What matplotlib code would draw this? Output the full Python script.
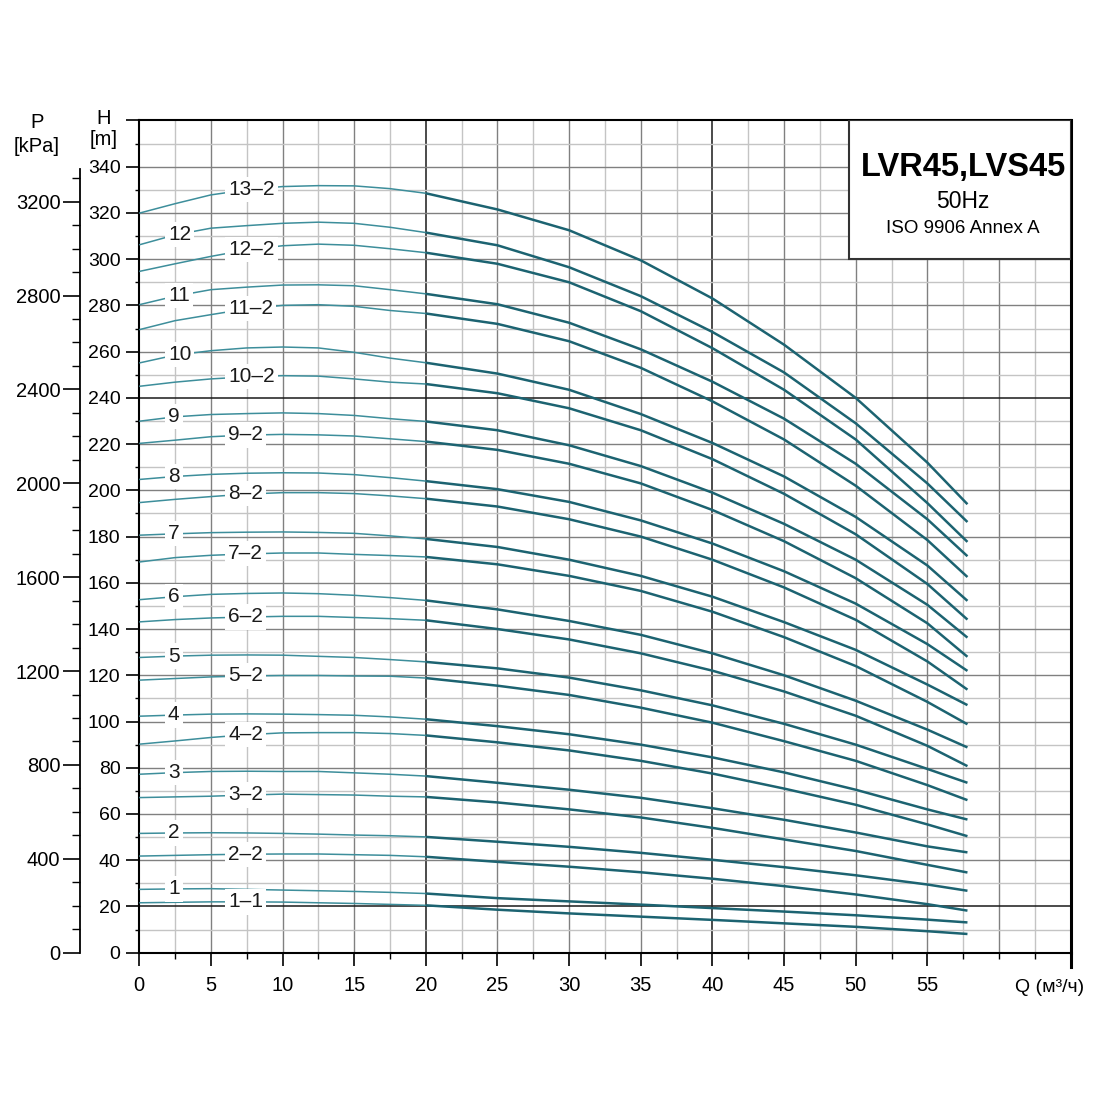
import numpy as np
import matplotlib
matplotlib.use("Agg")
import matplotlib.pyplot as plt
from matplotlib.patches import Rectangle

plt.rcParams['font.family'] = ['Liberation Sans', 'DejaVu Sans']

q = [0, 2.5, 5, 7.5, 10, 12.5, 15, 17.5, 20, 25, 30, 35, 40, 45, 50, 55, 57.8]

# Head (m) for every impeller variant
h_13_2 = [319.9, 324.0, 327.8, 330.0, 331.4, 331.8, 331.7, 330.5, 328.5, 321.5, 312.5, 299.5, 283.0, 263.0, 240.0, 212.0, 194.0]
h_12 = [306.2, 310.5, 313.4, 314.5, 315.5, 316.0, 315.5, 313.8, 311.5, 306.0, 296.5, 284.0, 268.5, 251.0, 229.0, 203.0, 186.3]
h_12_2 = [294.7, 298.0, 301.2, 304.0, 305.8, 306.5, 306.0, 304.5, 302.8, 298.0, 290.0, 277.5, 261.5, 243.5, 222.0, 194.5, 177.7]
h_11 = [280.3, 284.0, 286.8, 287.9, 288.8, 288.9, 288.5, 286.8, 285.0, 280.5, 272.5, 261.0, 247.0, 231.0, 211.5, 187.5, 171.5]
h_11_2 = [269.5, 273.4, 276.0, 278.5, 280.0, 280.3, 279.6, 277.8, 276.5, 272.0, 264.5, 253.0, 238.5, 222.0, 202.0, 178.5, 162.5]
h_10 = [255.1, 258.5, 260.4, 261.6, 262.0, 261.6, 259.7, 257.2, 255.2, 250.5, 243.5, 233.0, 220.5, 206.0, 188.5, 167.5, 152.2]
h_10_2 = [245.0, 246.8, 248.2, 249.1, 249.6, 249.4, 248.2, 246.8, 246.0, 242.0, 235.5, 226.0, 213.5, 198.5, 181.0, 159.5, 144.1]
h_9 = [229.9, 231.8, 232.8, 233.2, 233.5, 233.2, 232.4, 231.0, 229.8, 226.0, 219.5, 210.5, 199.0, 185.5, 170.0, 150.5, 136.3]
h_9_2 = [220.3, 221.7, 223.2, 223.9, 224.2, 224.0, 223.5, 222.3, 221.1, 217.5, 211.5, 203.0, 191.5, 178.0, 162.0, 142.5, 128.0]
h_8 = [204.7, 206.0, 206.9, 207.4, 207.6, 207.5, 206.8, 205.5, 204.0, 200.5, 195.0, 187.0, 177.0, 165.0, 151.0, 133.5, 121.9]
h_8_2 = [194.7, 196.1, 197.3, 198.4, 199.0, 199.0, 198.6, 197.6, 196.4, 193.0, 187.5, 180.0, 170.0, 158.0, 144.0, 126.0, 113.8]
h_7 = [180.6, 181.2, 181.7, 181.9, 182.0, 181.8, 181.4, 180.3, 179.0, 175.5, 170.0, 163.0, 154.0, 143.0, 131.0, 116.0, 107.1]
h_7_2 = [169.0, 170.9, 171.9, 172.5, 172.9, 172.9, 172.3, 171.8, 171.2, 168.0, 163.0, 156.5, 147.5, 136.5, 124.0, 108.5, 98.8]
h_6 = [152.7, 154.0, 155.0, 155.4, 155.6, 155.3, 154.6, 153.6, 152.4, 148.5, 143.5, 137.5, 129.5, 120.0, 109.0, 96.5, 88.8]
h_6_2 = [143.1, 144.1, 144.8, 145.2, 145.5, 145.5, 145.0, 144.5, 143.8, 140.0, 135.5, 129.5, 122.0, 113.0, 102.5, 89.5, 80.7]
h_5 = [127.7, 128.3, 128.7, 128.8, 128.7, 128.2, 127.7, 126.8, 125.8, 123.0, 119.0, 113.5, 107.0, 99.0, 90.0, 79.5, 73.5]
h_5_2 = [117.9, 118.6, 119.3, 119.7, 119.9, 119.9, 119.7, 119.6, 118.8, 115.5, 111.5, 106.0, 99.5, 91.5, 83.0, 72.5, 66.0]
h_4 = [102.3, 102.8, 103.2, 103.3, 103.2, 103.0, 102.7, 102.0, 101.0, 98.0, 94.5, 90.0, 84.5, 78.0, 70.5, 62.0, 57.6]
h_4_2 = [90.2, 91.6, 93.1, 94.3, 95.1, 95.2, 95.2, 94.8, 94.0, 91.0, 87.5, 83.0, 77.5, 71.0, 64.0, 55.5, 50.4]
h_3 = [77.2, 77.9, 78.4, 78.5, 78.4, 78.4, 77.8, 77.2, 76.4, 73.5, 70.5, 67.0, 62.5, 57.5, 52.0, 46.0, 43.4]
h_3_2 = [67.1, 67.4, 67.7, 68.2, 68.6, 68.4, 68.2, 67.7, 67.4, 65.0, 62.0, 58.5, 54.0, 49.0, 44.0, 38.0, 34.7]
h_2 = [51.6, 51.8, 51.9, 51.8, 51.6, 51.3, 50.9, 50.6, 50.1, 48.0, 45.8, 43.2, 40.2, 37.0, 33.5, 29.5, 26.8]
h_2_2 = [41.8, 42.1, 42.4, 42.6, 42.7, 42.7, 42.4, 42.1, 41.5, 39.3, 37.2, 34.8, 32.0, 28.8, 25.2, 21.0, 18.2]
h_1 = [27.4, 27.6, 27.7, 27.4, 27.1, 26.8, 26.5, 26.1, 25.6, 23.6, 22.2, 20.8, 19.3, 17.8, 16.2, 14.3, 13.1]
h_1_1 = [21.6, 21.8, 22.0, 22.0, 21.9, 21.6, 21.3, 20.9, 20.5, 18.6, 17.0, 15.6, 14.2, 12.7, 11.2, 9.3, 8.1]

names = ['13–2', '12', '12–2', '11', '11–2', '10', '10–2', '9', '9–2', '8', '8–2',
         '7', '7–2', '6', '6–2', '5', '5–2', '4', '4–2', '3', '3–2', '2', '2–2', '1', '1–1']
heads = [h_13_2, h_12, h_12_2, h_11, h_11_2, h_10, h_10_2, h_9, h_9_2, h_8, h_8_2,
         h_7, h_7_2, h_6, h_6_2, h_5, h_5_2, h_4, h_4_2, h_3, h_3_2, h_2, h_2_2, h_1, h_1_1]

x_ticks = [0, 5, 10, 15, 20, 25, 30, 35, 40, 45, 50, 55]
h_ticks = [0, 20, 40, 60, 80, 100, 120, 140, 160, 180, 200, 220, 240, 260, 280, 300, 320, 340]
p_ticks = [0, 400, 800, 1200, 1600, 2000, 2400, 2800, 3200]
KPA_PER_M = 9.85

fig = plt.figure(figsize=(11, 11), dpi=100)
ax = fig.add_axes([0.1266, 0.1339, 0.8467, 0.7566])
ax.set_xlim(0, 65)
ax.set_ylim(0, 360)

# grid
for x in np.arange(2.5, 65, 2.5):
    if x in (20, 40):
        c, lw = '#1a1a1a', 1.1
    elif x % 5 == 0:
        c, lw = '#808080', 1.0
    else:
        c, lw = '#c4c4c4', 1.0
    ax.axvline(x, color=c, lw=lw, zorder=1)
for y in np.arange(10, 360, 10):
    if y in (20, 240):
        c, lw = '#1a1a1a', 1.1
    elif y % 20 == 0:
        c, lw = '#808080', 1.0
    else:
        c, lw = '#c4c4c4', 1.0
    ax.axhline(y, color=c, lw=lw, zorder=1)

# curves: thin light part at low flow, heavier part after
for name, h in zip(names, heads):
    ax.plot(q[:9], h[:9], color='#3d8e9b', lw=1.1, zorder=3, solid_capstyle='butt')
    ax.plot(q[8:], h[8:], color='#1c6371', lw=1.8, zorder=3, solid_capstyle='butt')
    if '–' in name:
        xl = 6.2
        yl = np.interp(7.9, q, h)
    else:
        xl = 2.0
        yl = np.interp(2.7, q, h)
    ax.text(xl, yl, name, fontsize=15, ha='left', va='center', color='#1a1a1a', zorder=5,
            bbox=dict(boxstyle='square,pad=0.15', fc='white', ec='none'))

# spines and ticks
for s in ['left', 'bottom', 'top']:
    ax.spines[s].set_linewidth(1.5)
ax.spines['right'].set_linewidth(2.2)
ax.plot([1, 1], [0, -0.017], transform=ax.transAxes, color='black', lw=2.2, clip_on=False)

ax.set_xticks(x_ticks)
ax.set_xticks([v for v in np.arange(2.5, 65, 2.5) if v % 5 != 0 or v >= 60], minor=True)
ax.set_xticklabels([str(v) for v in x_ticks])
ax.tick_params(axis='x', which='major', direction='out', length=9, width=1.2, pad=8, labelsize=14.5)
ax.tick_params(axis='x', which='minor', direction='out', length=4.5, width=1.0)

ax.set_yticks(h_ticks + [360])
ax.set_yticklabels([str(v) for v in h_ticks] + [''])
ax.set_yticks(np.arange(10, 360, 20), minor=True)
ax.tick_params(axis='y', which='major', direction='out', length=9.5, width=1.2, pad=4, labelsize=14)
ax.tick_params(axis='y', which='minor', direction='out', length=3, width=1.0)

# pressure axis
pax = ax.secondary_yaxis(-0.0637, functions=(lambda h: h * KPA_PER_M, lambda p: p / KPA_PER_M))
pax.set_yticks(p_ticks)
pax.set_yticklabels([str(v) for v in p_ticks])
pax.set_yticks(np.arange(100, 3400, 100), minor=True)
pax.tick_params(axis='y', which='major', direction='out', length=12, width=1.2, pad=2, labelsize=14.5)
pax.tick_params(axis='y', which='minor', direction='out', length=6, width=1.0)
pax.spines['left'].set_linewidth(1.3)
pax.spines['left'].set_bounds(0, 3340)

# title box
ax.add_patch(Rectangle((49.5, 300), 15.5, 60, fc='white', ec='#333333', lw=1.5, zorder=6))
fig.text(0.8755, 0.8473, 'LVR45,LVS45', fontsize=23.5, fontweight='bold', ha='center', va='center')
fig.text(0.8755, 0.8166, '50Hz', fontsize=16.5, ha='center', va='center')
fig.text(0.8755, 0.7925, 'ISO 9906 Annex A', fontsize=13.5, ha='center', va='center')

# axis captions
fig.text(0.0334, 0.889, 'P', fontsize=14.5, ha='center', va='center')
fig.text(0.0334, 0.867, '[kPa]', fontsize=14.5, ha='center', va='center')
fig.text(0.0945, 0.892, 'H', fontsize=14.5, ha='center', va='center')
fig.text(0.0940, 0.873, '[m]', fontsize=14.5, ha='center', va='center')
fig.text(0.9545, 0.1027, 'Q (м³/ч)', fontsize=14, ha='center', va='center')

fig.savefig('out.png', dpi=100, facecolor='white')
